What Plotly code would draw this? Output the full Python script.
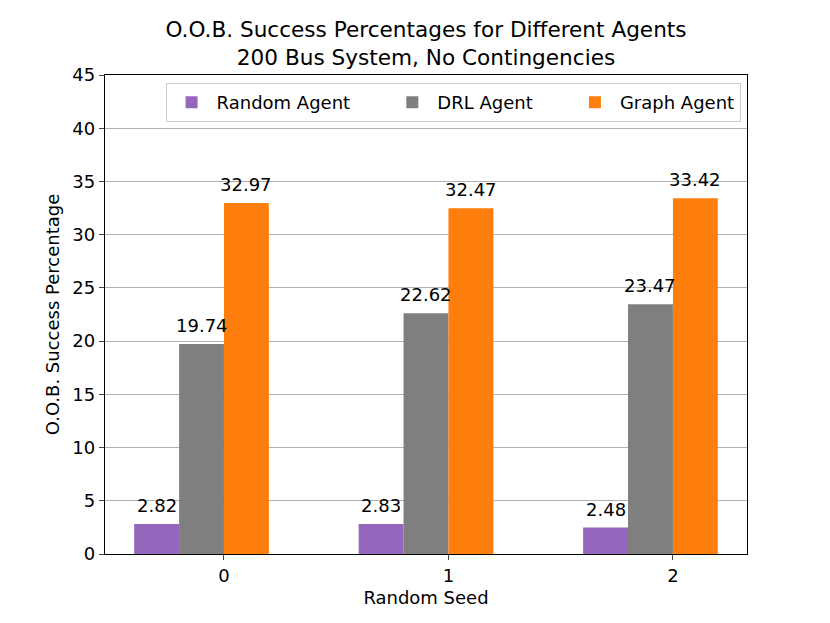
import plotly.graph_objects as go

# data
seeds = [0, 1, 2]
agents = ["Random Agent", "DRL Agent", "Graph Agent"]
random_vals = [2.82, 2.83, 2.48]
drl_vals = [19.74, 22.62, 23.47]
graph_vals = [32.97, 32.47, 33.42]

colors = ["#9467bd", "#7f7f7f", "#ff7f0e"]
offsets = [-0.4, -0.2, 0.0]   # left edge of each bar relative to the seed
bar_w = 0.2
font = "DejaVu Sans"
pad = "\u00a0" * 5 + "\u2009"   # extra room between legend entries

fig = go.Figure()
for i, (name, vals, col, off) in enumerate(zip(agents, [random_vals, drl_vals, graph_vals], colors, offsets)):
    label = name + (pad if i < len(agents) - 1 else "")
    fig.add_bar(x=seeds, y=vals, name=label, marker_color=col,
                marker_line_width=0, width=bar_w, offset=off)
    # value labels above each bar
    for s, v in zip(seeds, vals):
        fig.add_annotation(x=s + off + bar_w / 2, y=v, text=f"{v:.2f}",
                           showarrow=False, yanchor="bottom", yshift=6,
                           font=dict(family=font, size=18, color="black"))

fig.update_layout(
    width=830, height=623,
    barmode="overlay",
    paper_bgcolor="white", plot_bgcolor="white",
    font=dict(family=font, size=18, color="black"),
    margin=dict(l=97, r=91, t=67, b=77),
    title=dict(text="O.O.B. Success Percentages for Different Agents<br>200 Bus System, No Contingencies",
               xref="paper", x=0.5, xanchor="center",
               yref="container", y=0.954, yanchor="top",
               font=dict(family=font, size=21.6)),
    legend=dict(orientation="h", x=0.99, xanchor="right", y=0.983, yanchor="top",
                bordercolor="#cccccc", borderwidth=1, bgcolor="rgba(255,255,255,0.8)",
                font=dict(size=18), itemwidth=40, traceorder="normal"),
    showlegend=True,
)
fig.update_xaxes(range=[-0.53, 2.33], tickvals=seeds, ticks="outside", ticklen=5,
                 showline=True, linecolor="black", linewidth=1.3, mirror=True,
                 showgrid=False, zeroline=False,
                 title=dict(text="Random Seed", standoff=6, font=dict(size=18)))
fig.update_yaxes(range=[0, 45], dtick=5, ticks="outside", ticklen=5,
                 showline=True, linecolor="black", linewidth=1.3, mirror=True,
                 showgrid=True, gridcolor="#b0b0b0", gridwidth=1, zeroline=False,
                 title=dict(text="O.O.B. Success Percentage", standoff=8, font=dict(size=18)))

fig.write_html("out.html")
